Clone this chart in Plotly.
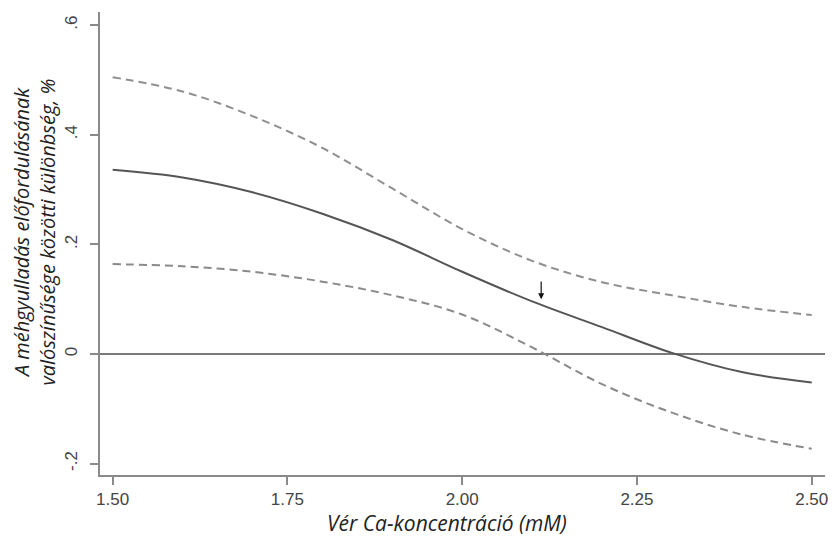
import plotly.graph_objects as go

# Blood Ca concentration (mM)
ca_mM = [1.50, 1.60, 1.70, 1.80, 1.90, 2.00, 2.10, 2.20, 2.30, 2.40, 2.50]
# Estimated difference in probability
diff_est = [0.336, 0.322, 0.295, 0.256, 0.208, 0.150, 0.096, 0.049, 0.002, -0.033, -0.052]
# Upper confidence bound
ci_upper = [0.505, 0.479, 0.434, 0.376, 0.302, 0.228, 0.170, 0.131, 0.107, 0.086, 0.071]
# Lower confidence bound
ci_lower = [0.164, 0.160, 0.150, 0.132, 0.107, 0.072, 0.012, -0.055, -0.107, -0.147, -0.173]

x_ticks = [1.50, 1.75, 2.00, 2.25, 2.50]
x_ticklabels = ["1.50", "1.75", "2.00", "2.25", "2.50"]
y_ticks = [-0.2, 0.0, 0.2, 0.4, 0.6]
y_ticklabels = ["-.2", "0", ".2", ".4", ".6"]

arrow_x = 2.113
arrow_from = 0.135
arrow_to = 0.100

x_title = "Vér Ca-koncentráció (mM)"
y_title = "A méhgyulladás előfordulásának<br>valószínűsége közötti különbség, %"

fig = go.Figure()
fig.add_trace(go.Scatter(x=ca_mM, y=ci_upper, mode="lines", line=dict(color="#8f8f8f", width=2, dash="8px,5px", shape="spline"), showlegend=False))
fig.add_trace(go.Scatter(x=ca_mM, y=ci_lower, mode="lines", line=dict(color="#8a8a8a", width=2, dash="8px,5px", shape="spline"), showlegend=False))
fig.add_trace(go.Scatter(x=ca_mM, y=diff_est, mode="lines", line=dict(color="#555555", width=2, shape="spline"), showlegend=False))

fig.add_annotation(x=arrow_x, y=arrow_to, ax=arrow_x, ay=arrow_from, xref="x", yref="y", axref="x", ayref="y",
                   showarrow=True, arrowhead=2, arrowsize=1, arrowwidth=1.2, arrowcolor="#111111", text="")

# page body has an 8px margin, so the figure is sized 830x529 and offset accordingly
fig.add_annotation(text="<i>" + x_title + "</i>", xref="paper", yref="paper", x=0.4786, y=-0.1037,
                   xanchor="center", yanchor="middle", showarrow=False, borderpad=0,
                   font=dict(family="Open Sans", size=21, color="#222222"))
fig.add_annotation(text="<i>" + y_title + "</i>", xref="paper", yref="paper", x=-0.0903, y=0.525,
                   xanchor="center", yanchor="middle", showarrow=False, textangle=-90, borderpad=0,
                   font=dict(family="Open Sans", size=20, color="#222222"))

fig.update_layout(
    width=830, height=529,
    margin=dict(l=92, r=13, t=4, b=62, autoexpand=False),
    plot_bgcolor="white", paper_bgcolor="white",
    xaxis=dict(range=[1.4819, 2.519], tickvals=x_ticks, ticktext=x_ticklabels,
               showgrid=False, zeroline=False, showline=True, linecolor="#8a8a8a", linewidth=1.5,
               ticks="outside", ticklen=8, tickcolor="#8a8a8a", tickwidth=1.5,
               tickfont=dict(family="Liberation Sans", size=17, color="#444444")),
    yaxis=dict(range=[-0.2208, 0.624], tickvals=y_ticks, ticktext=y_ticklabels,
               showgrid=False, zeroline=True, zerolinecolor="#7a7a7a", zerolinewidth=1.5,
               showline=True, linecolor="#8a8a8a", linewidth=1.5,
               ticks="outside", ticklen=8, tickcolor="#8a8a8a", tickwidth=1.5, tickangle=-90,
               ticklabelstandoff=6,
               tickfont=dict(family="Liberation Sans", size=17, color="#444444")),
)

fig.write_html("out.html")
